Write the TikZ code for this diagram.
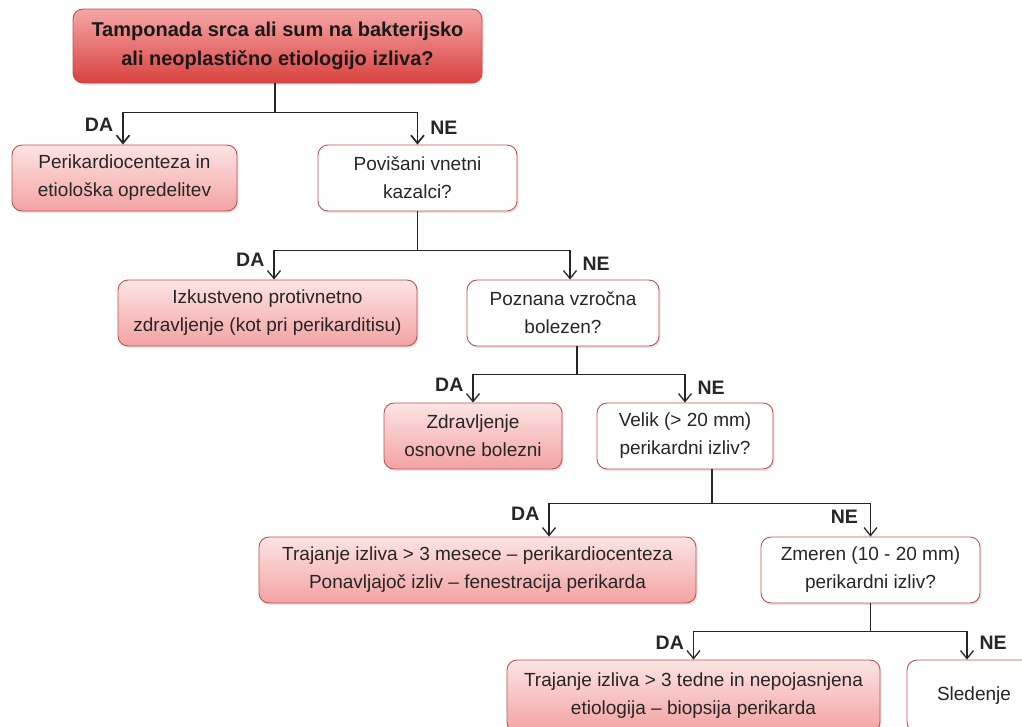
\documentclass[tikz,border=0pt]{standalone}
\usepackage{fontspec}
\setmainfont{Liberation Sans}
\usetikzlibrary{arrows.meta, shadows}
\definecolor{boxred}{HTML}{C0504D}
\definecolor{pinktop}{HTML}{FDE4E4}
\definecolor{pinkbot}{HTML}{F3A2A2}
\definecolor{roottop}{HTML}{F6A6A6}
\definecolor{rootbot}{HTML}{D8423F}
\definecolor{inkgray}{HTML}{262626}

\begin{document}
\begin{tikzpicture}[x=1pt,y=-1pt]
    \tikzset{box/.style={rectangle,rounded corners=10pt,draw=boxred,line width=0.9pt,align=center,text=inkgray,font=\fontsize{19}{28}\selectfont,minimum height=66pt,inner sep=0pt,drop shadow={shadow xshift=1.5pt,shadow yshift=-2pt,opacity=0.2}}}
    \tikzset{question/.style={box,fill=white}}
    \tikzset{action/.style={box,top color=pinktop,bottom color=pinkbot}}
    \tikzset{rootbox/.style={box,top color=roottop,bottom color=rootbot,text=black!90,font=\bfseries\fontsize{20}{29}\selectfont,minimum height=74pt}}
    \tikzset{answer/.style={font=\bfseries\fontsize{19.5}{20}\selectfont,text=inkgray,inner sep=0pt}}
    \tikzset{stem/.style={draw=inkgray,line width=1.3pt}}
    \tikzset{link/.style={stem,-{Straight Barb[length=8pt,width=13pt]}}}
    \useasboundingbox (0,0) rectangle (1022,726);

    \node[rootbox, minimum width=409pt] at (277.5,46) (q0) {Tamponada srca ali sum na bakterijsko\\ ali neoplastično etiologijo izliva?};
    \node[action, minimum width=225pt] at (124.5,178) (a1) {Perikardiocenteza in\\etiološka opredelitev};
    \node[question, minimum width=199pt] at (417.5,178) (q1) {Povišani vnetni\\kazalci?};
    \node[action, minimum width=299pt] at (267.5,313) (a2) {Izkustveno protivnetno\\zdravljenje (kot pri perikarditisu)};
    \node[question, minimum width=192pt] at (563,313) (q2) {Poznana vzročna\\bolezen?};
    \node[action, minimum width=178pt] at (473,436) (a3) {Zdravljenje\\osnovne bolezni};
    \node[question, minimum width=176pt] at (685,436) (q3) {Velik (> 20 mm)\\perikardni izliv?};
    \node[action, minimum width=437pt] at (477.5,570) (a4) {Trajanje izliva > 3 mesece – perikardiocenteza\\Ponavljajoč izliv – fenestracija perikarda};
    \node[question, minimum width=219pt] at (870.5,570) (q4) {Zmeren (10 - 20 mm)\\perikardni izliv?};
    \node[action, minimum width=373pt, minimum height=72pt] at (693.5,696) (a5) {Trajanje izliva > 3 tedne in nepojasnjena\\etiologija – biopsija perikarda};
    \node[question, minimum width=134pt, minimum height=72pt] at (974,696) (a6) {Sledenje};

    % level 1
    \draw[stem, line width=1.7pt] ([xshift=-2.5pt]q0.south) -- ++(0,29) coordinate (j0);
    \draw[link, line width=1.7pt] (j0) -| ([xshift=-1.5pt]a1.north) node[answer, pos=.69, left=9pt] {DA};
    \draw[link, line width=1.7pt] (j0) -| (q1.north) node[answer, pos=.74, right=12pt] {NE};
    % level 2
    \draw[stem] (q1.south) -- ++(0,39) coordinate (j1);
    \draw[link] (j1) -| ([xshift=6.5pt]a2.north) node[answer, pos=.66, left=9pt] {DA};
    \draw[link] (j1) -| ([xshift=7pt]q2.north) node[answer, pos=.73, right=12pt] {NE};
    % level 3
    \draw[stem] ([xshift=14pt]q2.south) -- ++(0,28) coordinate (j2);
    \draw[link] (j2) -| (a3.north) node[answer, pos=.69, left=9pt] {DA};
    \draw[link] (j2) -| (q3.north) node[answer, pos=.74, right=12pt] {NE};
    % level 4
    \draw[stem] ([xshift=27pt]q3.south) -- ++(0,34) coordinate (j3);
    \draw[link] (j3) -| ([xshift=71.5pt]a4.north) node[answer, pos=.65, left=9pt] {DA};
    \draw[link] (j3) -| (q4.north) node[answer, pos=.7, left=12pt] {NE};
    % level 5
    \draw[stem] (q4.south) -- ++(0,28) coordinate (j4);
    \draw[link] (j4) -| (a5.north) node[answer, pos=.71, left=9pt] {DA};
    \draw[link] (j4) -| ([xshift=-7pt]a6.north) node[answer, pos=.71, right=12pt] {NE};
\end{tikzpicture}
\end{document}
